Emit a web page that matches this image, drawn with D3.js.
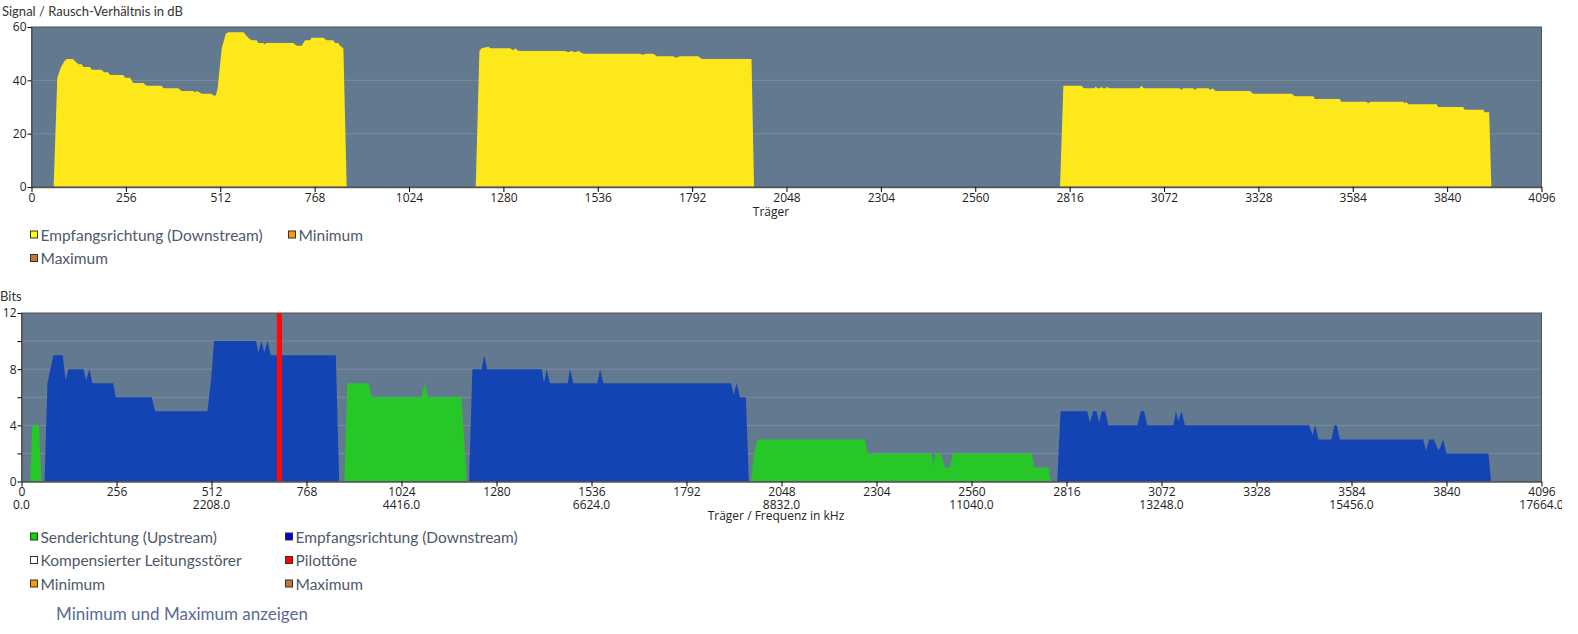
<!DOCTYPE html>
<html>
<head>
<meta charset="utf-8">
<script src="https://cdn.jsdelivr.net/npm/d3@7"></script>
<style>
  body { margin: 0; background: #fff; }
  svg { display: block; }
</style>
</head>
<body>
<svg id="chart" width="1562" height="634"></svg>
<script>
// Signal/Rausch-Verhältnis (dB) per Träger, drei Bänder, [Träger, dB]
const snrBand1 = [[60,0],[70,41],[80,45],[91,47.5],[97,48],[112,48],[120,47],[127,46],[136,46],[141,45],[159,45],[163,44],[190,44],[197,43],[208,43],[213,42],[249,42],[254,41],[267,41],[276,39],[303,39],[312,38],[353,38],[358,37],[398,37],[407,36],[439,36],[444,35.4],[448,36],[455,35.5],[462,35],[489,35],[493,34.3],[500,34.3],[505,37],[516,52],[527,57.5],[534,58],[575,58],[588,56],[597,55],[611,55],[615,54],[629,54],[631,53.5],[638,54],[710,54],[719,53],[733,53],[742,55],[755,55],[760,56],[792,56],[800,55],[819,55],[823,54],[832,54],[837,53],[846,52],[855,0]];
const snrBand2 = [[1205,0],[1215,51],[1221,52],[1239,52.6],[1245,52],[1298,52],[1307,51.3],[1312,52],[1318,51.3],[1325,51],[1447,51],[1456,50.5],[1465,51],[1474,50.5],[1483,51],[1497,50],[1650,50],[1659,49.5],[1664,50],[1687,50],[1696,49],[1741,49],[1747,48.5],[1759,49],[1809,49],[1818,48],[1953,48],[1960,0]];
const snrBand3 = [[2790,0],[2799,38],[2848,38],[2855,37],[2883,37],[2887,37.7],[2891,37],[2898,37],[2902,37.7],[2906,37],[2914,37],[2918,37.7],[2922,37],[3005,37],[3011,38],[3017,37],[3115,37],[3119,36.4],[3124,37],[3151,37],[3156,36.4],[3161,37],[3192,37],[3198,36.4],[3204,37],[3212,36],[3305,36],[3314,35],[3418,35],[3427,34],[3477,34],[3481,33],[3549,33],[3553,32],[3621,32],[3626,31.4],[3632,32],[3721,32],[3725,31.4],[3730,31.8],[3735,31],[3811,31],[3816,30],[3883,30],[3888,29],[3938,29],[3942,28],[3954,28],[3960,0]];

// Bits pro Träger, [Träger, Bits]
const upstream1 = [[23,0],[29,4],[47,4],[54,0]];
const upstream2 = [[870,0],[878,7],[936,7],[944,6],[1078,6],[1087,7],[1096,6],[1186,6],[1200,0]];
const upstream3 = [[1966,0],[1974,2],[1983,3],[2273,3],[2280,2],[2453,2],[2457,1.2],[2462,2],[2477,2],[2489,1],[2502,1],[2509,2],[2722,2],[2729,1],[2767,1],[2774,0]];
const downstream1 = [[62,0],[70,7],[86,9],[111,9],[119,7.2],[126,8],[167,8],[174,7.2],[183,8],[191,7],[247,7],[254,6],[351,6],[360,5],[501,5],[510,7],[519,10],[632,10],[638,9.2],[647,10],[654,9.2],[663,10],[672,9],[847,9],[856,0]];
const downstream2 = [[1206,0],[1215,8],[1240,8],[1247,9],[1255,8],[1402,8],[1408,7],[1415,8],[1424,7],[1472,7],[1478,8],[1487,7],[1552,7],[1559,8],[1568,7],[1912,7],[1919,6.2],[1927,7],[1936,6],[1952,6],[1960,0]];
const downstream3 = [[2791,0],[2800,5],[2872,5],[2879,4.2],[2888,5],[2897,5],[2904,4.2],[2911,5],[2920,5],[2929,4],[3007,4],[3016,5],[3025,5],[3034,4],[3104,4],[3111,5],[3117,4.3],[3126,5],[3135,4],[3470,4],[3479,3.3],[3486,4],[3495,3],[3530,3],[3538,4],[3544,4],[3553,3],[3777,3],[3785,2.2],[3793,3],[3806,3],[3818,2.2],[3824,2.5],[3831,3],[3840,2],[3953,2],[3960,0]];
const pilotTones = [[688, 702]];  // Träger von/bis

const carrierTicks = d3.range(0, 4097, 256);
const khzPerCarrier = 4.3125;
const snrTicks = [0, 20, 40, 60];
const bitTicks = [0, 2, 4, 6, 8, 10, 12];

const legendTop = [
  {label: "Empfangsrichtung (Downstream)", color: "#ffff00"},
  {label: "Minimum", color: "#ff9900"},
  {label: "Maximum", color: "#c87533"}
];
const legendBottom = [
  {label: "Senderichtung (Upstream)", color: "#00dd00"},
  {label: "Empfangsrichtung (Downstream)", color: "#0000dd"},
  {label: "Kompensierter Leitungsstörer", color: "#ffffff"},
  {label: "Pilottöne", color: "#ff0000"},
  {label: "Minimum", color: "#ff9900"},
  {label: "Maximum", color: "#c87533"}
];

const svg = d3.select("#chart");
const plotBg = "#637990", gridCol = "#7a8da1", axisCol = "#555";
const textFont = "Lato, 'Open Sans', sans-serif";
const tickFont = "'Open Sans', 'DejaVu Sans', sans-serif";

function drawPanel(opts) {
  const x = d3.scaleLinear().domain([0, 4096]).range([opts.left, 1541.5]);
  const y = d3.scaleLinear().domain([0, opts.ymax]).range([opts.bottom, opts.top]);
  const g = svg.append("g");

  g.append("rect")
    .attr("x", x(0)).attr("y", y(opts.ymax))
    .attr("width", x(4096) - x(0)).attr("height", y(0) - y(opts.ymax))
    .attr("fill", plotBg);

  // Gitterlinien
  g.selectAll("line.grid").data(opts.yTicks.filter(v => v > 0 && v < opts.ymax))
    .join("line").attr("class", "grid")
    .attr("x1", x(0)).attr("x2", x(4096))
    .attr("y1", d => y(d)).attr("y2", d => y(d))
    .attr("stroke", gridCol).attr("stroke-width", 1);

  const area = d3.area().x(d => x(d[0])).y0(y(0)).y1(d => y(d[1]));
  opts.series.forEach(s => {
    s.bands.forEach(band => {
      g.append("path").datum(band).attr("d", area).attr("fill", s.color);
    });
  });
  if (opts.after) opts.after(g, x, y);

  // Rahmen
  g.append("rect")
    .attr("x", x(0)).attr("y", y(opts.ymax))
    .attr("width", x(4096) - x(0)).attr("height", y(0) - y(opts.ymax))
    .attr("fill", "none").attr("stroke", axisCol).attr("stroke-width", 1);

  const xAxis = g.append("g").attr("transform", `translate(0,${y(0)})`)
    .call(d3.axisBottom(x).tickValues(carrierTicks).tickSize(5).tickPadding(1).tickSizeOuter(0).tickFormat(d3.format("d")));
  xAxis.select(".domain").attr("stroke", axisCol).attr("stroke-width", 1.5);
  xAxis.selectAll("text").attr("font-family", tickFont).attr("font-size", 12).attr("fill", "#222");

  if (opts.freqRow) {
    xAxis.selectAll(".freq").data(carrierTicks.filter(d => d % 512 === 0))
      .join("text").attr("class", "freq")
      .attr("x", d => x(d)).attr("y", 27)
      .attr("text-anchor", "middle")
      .attr("font-family", tickFont).attr("font-size", 12).attr("fill", "#222")
      .text(d => (d * khzPerCarrier).toFixed(1));
  }

  const yAxis = g.append("g").attr("transform", `translate(${x(0)},0)`)
    .call(d3.axisLeft(y).tickValues(opts.yTicks).tickSize(4).tickSizeOuter(0)
      .tickFormat(d => opts.yLabels.includes(d) ? d : ""));
  yAxis.select(".domain").attr("stroke", axisCol).attr("stroke-width", 1.5);
  yAxis.selectAll("text").attr("font-family", tickFont).attr("font-size", 12).attr("fill", "#222").attr("x", -5);

  svg.append("text").attr("x", opts.titleX).attr("y", opts.titleY)
    .attr("font-family", textFont).attr("font-size", 13).attr("fill", "#333")
    .text(opts.title);
  svg.append("text").attr("x", opts.xLabelX).attr("y", opts.xLabelY)
    .attr("text-anchor", "middle")
    .attr("font-family", tickFont).attr("font-size", 12).attr("fill", "#222")
    .text(opts.xLabel);
}

drawPanel({
  left: 31.5, top: 27, bottom: 187, ymax: 60,
  yTicks: snrTicks, yLabels: snrTicks,
  series: [{color: "#fde91b", bands: [snrBand1, snrBand2, snrBand3]}],
  title: "Signal / Rausch-Verhältnis in dB", titleX: 2, titleY: 16,
  xLabel: "Träger", xLabelX: 771, xLabelY: 216
});

drawPanel({
  left: 21.5, top: 313, bottom: 481.5, ymax: 12,
  yTicks: bitTicks, yLabels: [0, 4, 8, 12],
  series: [
    {color: "#26c726", bands: [upstream1, upstream2, upstream3]},
    {color: "#1245b3", bands: [downstream1, downstream2, downstream3]}
  ],
  freqRow: true,
  after: (g, x, y) => {
    g.selectAll("rect.pilot").data(pilotTones).join("rect").attr("class", "pilot")
      .attr("x", d => x(d[0])).attr("width", d => x(d[1]) - x(d[0]))
      .attr("y", y(12)).attr("height", y(0) - y(12))
      .attr("fill", "#ff0a0a");
  },
  title: "Bits", titleX: 0, titleY: 301,
  xLabel: "Träger / Frequenz in kHz", xLabelX: 776, xLabelY: 520
});

function drawLegend(items, y0, colX) {
  items.forEach((it, i) => {
    const cx = colX[i % 2], cy = y0 + Math.floor(i / 2) * 23.5;
    svg.append("rect").attr("x", cx).attr("y", cy - 4).attr("width", 7).attr("height", 7)
      .attr("fill", it.color).attr("stroke", "#333").attr("stroke-width", 1);
    svg.append("text").attr("x", cx + 10).attr("y", cy + 5.5)
      .attr("font-family", textFont).attr("font-size", 15.5).attr("fill", "#4f586a")
      .text(it.label);
  });
}
drawLegend(legendTop, 235, [30.5, 288.5]);
drawLegend(legendBottom, 537, [30.5, 285.5]);

svg.append("text").attr("x", 56).attr("y", 620)
  .attr("font-family", textFont).attr("font-size", 17).attr("fill", "#5a6a98")
  .text("Minimum und Maximum anzeigen");
</script>
</body>
</html>
